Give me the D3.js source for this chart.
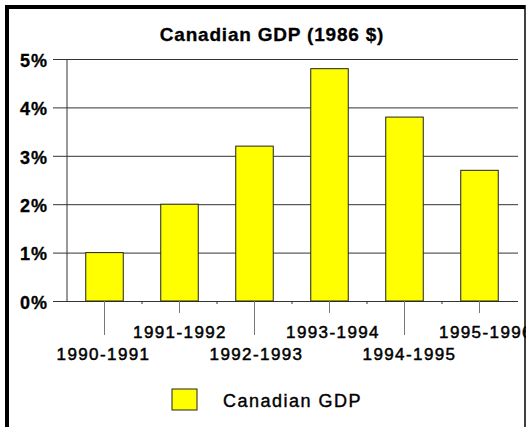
<!DOCTYPE html>
<html>
<head>
<meta charset="utf-8">
<script src="https://cdn.jsdelivr.net/npm/d3@7"></script>
<style>
	body { margin: 0; background: white; }
	svg { display: block; font-family: "Liberation Sans", Arial, sans-serif; }
</style>
</head>
<body>
<div id="chart"></div>
<script>
const periods = ['1990-1991', '1991-1992', '1992-1993', '1993-1994', '1994-1995', '1995-1996'];
const gdpGrowth = [1.0, 2.0, 3.2, 4.8, 3.8, 2.7];
const yTicks = [0, 1, 2, 3, 4, 5];
const seriesName = 'Canadian GDP';
const chartTitle = 'Canadian GDP (1986 $)';

let svgWidth = 529
let svgHeight = 427
let padding = { left: 67, right: 12, top: 59, bottom: 126 }

let svg = d3.select('#chart').append('svg')
	.attr('width', svgWidth)
	.attr('height', svgHeight)

svg.append('text')
	.attr('x', 272)
	.attr('y', 41)
	.attr('text-anchor', 'middle')
	.attr('font-size', '19px')
	.attr('font-weight', 'bold')
	.attr('letter-spacing', '0.8px')
	.attr('stroke', 'black')
	.attr('stroke-width', 0.3)
	.text(chartTitle)

let x = d3.scaleBand()
	.domain(periods)
	.range([padding.left, svgWidth - padding.right - 0])
	.paddingInner(0.5)
	.paddingOuter(0.25)

let y = d3.scaleLinear()
	.domain([0, 5])
	.range([svgHeight - padding.bottom, padding.top])

// y axis with gridlines
let axisY = svg.append('g')
	.attr('class', 'y-axis')
	.attr('transform', `translate(${padding.left}, 0)`)
	.call(d3.axisLeft(y).tickValues(yTicks).tickSize(14).tickPadding(5).tickFormat(d => d + '%'))

axisY.select('.domain').remove()
axisY.selectAll('.tick line')
	.attr('stroke', '#333')
	.attr('x2', svgWidth - padding.right - padding.left + 1)
	.attr('x1', -14)
axisY.selectAll('.tick text')
	.attr('font-size', '18px')
	.attr('font-weight', 'bold')
	.attr('letter-spacing', '1px')
	.attr('fill', 'black')
	.attr('stroke', 'black')
	.attr('stroke-width', 0.3)
	.attr('dy', '0.4em')

svg.append('line')
	.attr('x1', padding.left).attr('x2', padding.left)
	.attr('y1', y(5)).attr('y2', y(0))
	.attr('stroke', '#333')

// bars
svg.append('g')
	.selectAll('rect')
	.data(periods)
	.enter()
	.append('rect')
	.attr('x', d => x(d))
	.attr('y', (d, i) => y(gdpGrowth[i]))
	.attr('width', x.bandwidth())
	.attr('height', (d, i) => y(0) - y(gdpGrowth[i]))
	.attr('fill', '#ffff00')
	.attr('stroke', '#222')
	.attr('stroke-width', 1)

// x axis
let axisX = svg.append('g')
	.attr('class', 'x-axis')
	.attr('transform', `translate(0, ${y(0)})`)
	.call(d3.axisBottom(x).tickSize(0).tickPadding(0))

axisX.select('.domain').remove()
axisX.selectAll('.tick line')
	.attr('stroke', '#777')
	.attr('y2', (d, i) => i % 2 === 0 ? 34 : 12)
axisX.selectAll('.tick text')
	.attr('font-size', '17px')
	.attr('letter-spacing', '1.4px')
	.attr('fill', 'black')
	.attr('stroke', 'black')
	.attr('stroke-width', 0.5)
	.attr('dy', 0)
	.attr('dx', (d, i) => i * 1.5 - 1)
	.attr('y', (d, i) => i % 2 === 0 ? 59 : 37)

// small ticks at band boundaries
axisX.selectAll('.bound')
	.data(periods.slice(1))
	.enter()
	.append('line')
	.attr('x1', d => x(d) - x.step() * 0.25)
	.attr('x2', d => x(d) - x.step() * 0.25)
	.attr('y1', 0)
	.attr('y2', 3)
	.attr('stroke', '#333')

// legend
let legend = svg.append('g')
	.attr('transform', 'translate(172, 389)')
legend.append('rect')
	.attr('width', 25)
	.attr('height', 21)
	.attr('fill', '#ffff00')
	.attr('stroke', '#222')
legend.append('text')
	.attr('x', 51)
	.attr('y', 18)
	.attr('font-size', '18px')
	.attr('letter-spacing', '1.5px')
	.attr('fill', 'black')
	.attr('stroke', 'black')
	.attr('stroke-width', 0.4)
	.text(seriesName)

// frame
svg.append('rect')
	.attr('x', 526)
	.attr('y', 0)
	.attr('width', 3)
	.attr('height', svgHeight)
	.attr('fill', 'white')
svg.append('line')
	.attr('x1', 5).attr('x2', 525)
	.attr('y1', 7).attr('y2', 7)
	.attr('stroke', 'black')
	.attr('stroke-width', 4)
svg.append('line')
	.attr('x1', 7).attr('x2', 7)
	.attr('y1', 5).attr('y2', svgHeight)
	.attr('stroke', 'black')
	.attr('stroke-width', 4)
svg.append('line')
	.attr('x1', 525).attr('x2', 525)
	.attr('y1', 5).attr('y2', svgHeight)
	.attr('stroke', 'black')
	.attr('stroke-width', 1.5)
</script>
</body>
</html>
